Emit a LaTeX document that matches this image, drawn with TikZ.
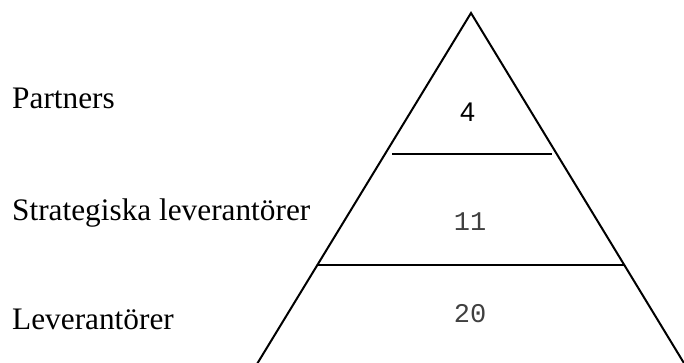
\documentclass[tikz,border=0pt]{standalone}
\usepackage{fontspec}
\setmainfont{Liberation Serif}
\newfontfamily\numsans{Liberation Sans}
\newfontfamily\nummono{Liberation Mono}
\begin{document}
\begin{tikzpicture}[x=1pt,y=-1pt,
  edge/.style={line width=2pt,black},
  lbl/.style={anchor=base west,inner sep=0pt,font=\fontsize{31.3}{36}\selectfont},
  numlbl/.style={anchor=base,inner sep=0pt,text=black!75}]
\useasboundingbox (0,0) rectangle (684,363);
\coordinate (bl) at (257,364);
\coordinate (apex) at (471,13);
\coordinate (br) at (684.5,364);
\draw[edge,line join=miter] (bl) -- (apex) -- (br);
\coordinate (l1a) at (392,154);
\coordinate (l1b) at (552,154);
\coordinate (l2a) at (318,265);
\coordinate (l2b) at (625,265);
\draw[edge] (l1a) -- (l1b);
\draw[edge] (l2a) -- (l2b);
\node[lbl] (p) at (12,109) {Partners};
\node[lbl] (s) at (12,220) {Strategiska leverantörer};
\node[lbl] (l) at (12,329) {Leverantörer};
\node[anchor=base,inner sep=0pt,text=black] (n4) at (467.5,121.5) {\numsans\fontsize{27}{32}\selectfont 4};
\node[numlbl,font=\nummono\fontsize{27}{32}\selectfont] (n11) at (470,230) {11};
\node[numlbl,font=\nummono\fontsize{27}{32}\selectfont] (n20) at (470,322) {20};
\end{tikzpicture}
\end{document}
